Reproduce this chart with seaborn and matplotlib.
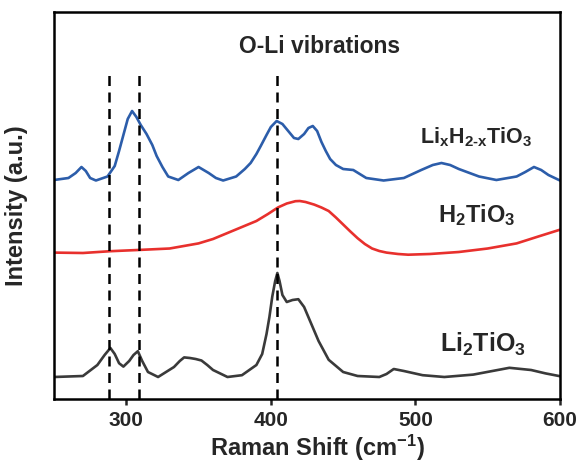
import matplotlib
matplotlib.use("Agg")
import matplotlib.pyplot as plt
import seaborn as sns
import pandas as pd

# ---- data (x: Raman shift, y: intensity, arb. units) ----
blue_x = [250, 260, 265, 269, 272, 275, 279, 287, 292, 295, 298, 301, 304, 307, 310,
          314, 318, 321, 325, 329, 336, 343, 350, 357, 362, 367, 376, 382, 386, 390,
          393, 397, 400, 404, 408, 412, 416, 419, 423, 426, 429, 432, 435, 438, 441,
          445, 450, 457, 466, 478, 492, 504, 512, 518, 524, 530, 544, 556, 570, 576,
          582, 587, 592, 600]
blue_y = [219, 221, 226, 232, 228, 221, 218.5, 222.5, 233, 248, 264, 280, 288, 282, 274,
          265, 254, 243, 232, 222.5, 219, 226, 232, 226, 221, 218.5, 222.5, 230, 236, 245,
          253, 264, 272, 278, 275, 268, 261, 260, 265, 271, 273, 268, 257, 248, 240,
          234, 230, 229, 221, 218.5, 221, 229, 234, 236, 234, 230, 222.5, 219, 222.5, 227,
          232, 229, 224, 218.5]

red_x = [250, 270, 289, 308, 330, 350, 360, 370, 380, 390, 398, 405, 411, 417, 420,
         424, 430, 435, 440, 445, 450, 455, 460, 465, 470, 475, 480, 488, 495, 510,
         530, 550, 570, 585, 600]
red_y = [146.4, 146, 147.8, 149, 150.5, 155.6, 160, 166, 172, 178, 185, 191.6, 195.5, 197.8, 198,
         197, 194.4, 191.5, 188, 181.5, 174.5, 167.5, 160.8, 155, 150.5, 148, 146.4, 145, 144.3, 145,
         147, 150.5, 155.6, 162.5, 169.3]

black_x = [250, 270, 280, 285, 289, 292, 295, 298, 302, 305, 308, 311, 315, 322, 333,
           337, 340, 344, 348, 352, 356, 360, 370, 380, 390, 394, 397, 399, 401, 403,
           404.5, 406, 408, 411, 415, 419, 423, 428, 433, 440, 450, 460, 475, 480,
           485, 492, 505, 520, 540, 565, 580, 590, 600]
black_y = [22, 23, 34, 44, 51, 45, 35.8, 32.4, 38, 44, 47.8, 38, 27, 22, 32,
           38, 41.6, 41, 40, 38.5, 34, 29, 22, 23.8, 34, 45, 65, 82, 102.6, 118,
           126, 118, 104, 97, 99, 99.8, 92, 75, 58, 39.2, 27, 23, 22, 25,
           30, 28, 23.8, 22, 24.4, 31.2, 29, 25.6, 22.8]

dash_x = [288, 308.5, 404]
dash_top = 328

xticks = [300, 400, 500, 600]
annot_text = "O-Li vibrations"
series_labels = [r"$\mathbf{Li_xH_{2\text{-}x}TiO_3}$", r"$\mathbf{H_2TiO_3}$", r"$\mathbf{Li_2TiO_3}$"]
series_colors = ["#2c5daa", "#e8302d", "#3a3a3a"]

# ---- build a long table for seaborn ----
df = pd.concat([
    pd.DataFrame({"x": blue_x, "y": blue_y, "s": "blue"}),
    pd.DataFrame({"x": red_x, "y": red_y, "s": "red"}),
    pd.DataFrame({"x": black_x, "y": black_y, "s": "black"}),
], ignore_index=True)

sns.set_style("ticks")
plt.rcParams["font.family"] = ["Liberation Sans", "DejaVu Sans"]
plt.rcParams["font.weight"] = "bold"
plt.rcParams["mathtext.fontset"] = "custom"
plt.rcParams["mathtext.rm"] = "Liberation Sans"
plt.rcParams["mathtext.bf"] = "Liberation Sans:bold"
plt.rcParams["mathtext.it"] = "Liberation Sans:italic"

fig = plt.figure(figsize=(5.78, 4.63), dpi=100)
ax = fig.add_axes([54 / 578, 1 - 399 / 463, (560 - 54) / 578, (399 - 12) / 463])

sns.lineplot(data=df, x="x", y="y", hue="s", palette=dict(zip(["blue", "red", "black"], series_colors)),
             hue_order=["blue", "red", "black"], sort=False, estimator=None, lw=1.9,
             legend=False, ax=ax)

ax.vlines(dash_x, 0, dash_top, colors="black", linestyles=(0, (4, 2.6)), lw=1.8, zorder=3)

ax.set_xlim(250, 600)
ax.set_ylim(0, 387)
ax.set_xticks(xticks)
ax.set_yticks([])
ax.tick_params(axis="x", direction="out", length=4.5, width=1.8, labelsize=15, pad=4)
for lab in ax.get_xticklabels():
    lab.set_fontweight("bold")
for sp in ax.spines.values():
    sp.set_visible(True)
    sp.set_linewidth(1.8)
    sp.set_color("black")

ax.set_xlabel(r"Raman Shift (cm$^{\mathbf{-1}}$)", fontsize=17, fontweight="bold")
ax.set_ylabel("Intensity (a.u.)", fontsize=17, fontweight="bold")
ax.xaxis.set_label_coords(0.52, -0.088)
ax.yaxis.set_label_coords(-0.052, 0.5)

ax.text(434, 346, annot_text, fontsize=16.5, fontweight="bold", ha="center", va="baseline")
ax.text(542, 256, series_labels[0], fontsize=15.5, ha="center", va="baseline")
ax.text(542.4, 177, series_labels[1], fontsize=17, ha="center", va="baseline")
ax.text(547, 47, series_labels[2], fontsize=18, ha="center", va="baseline")

fig.savefig("out.png", dpi=100)
